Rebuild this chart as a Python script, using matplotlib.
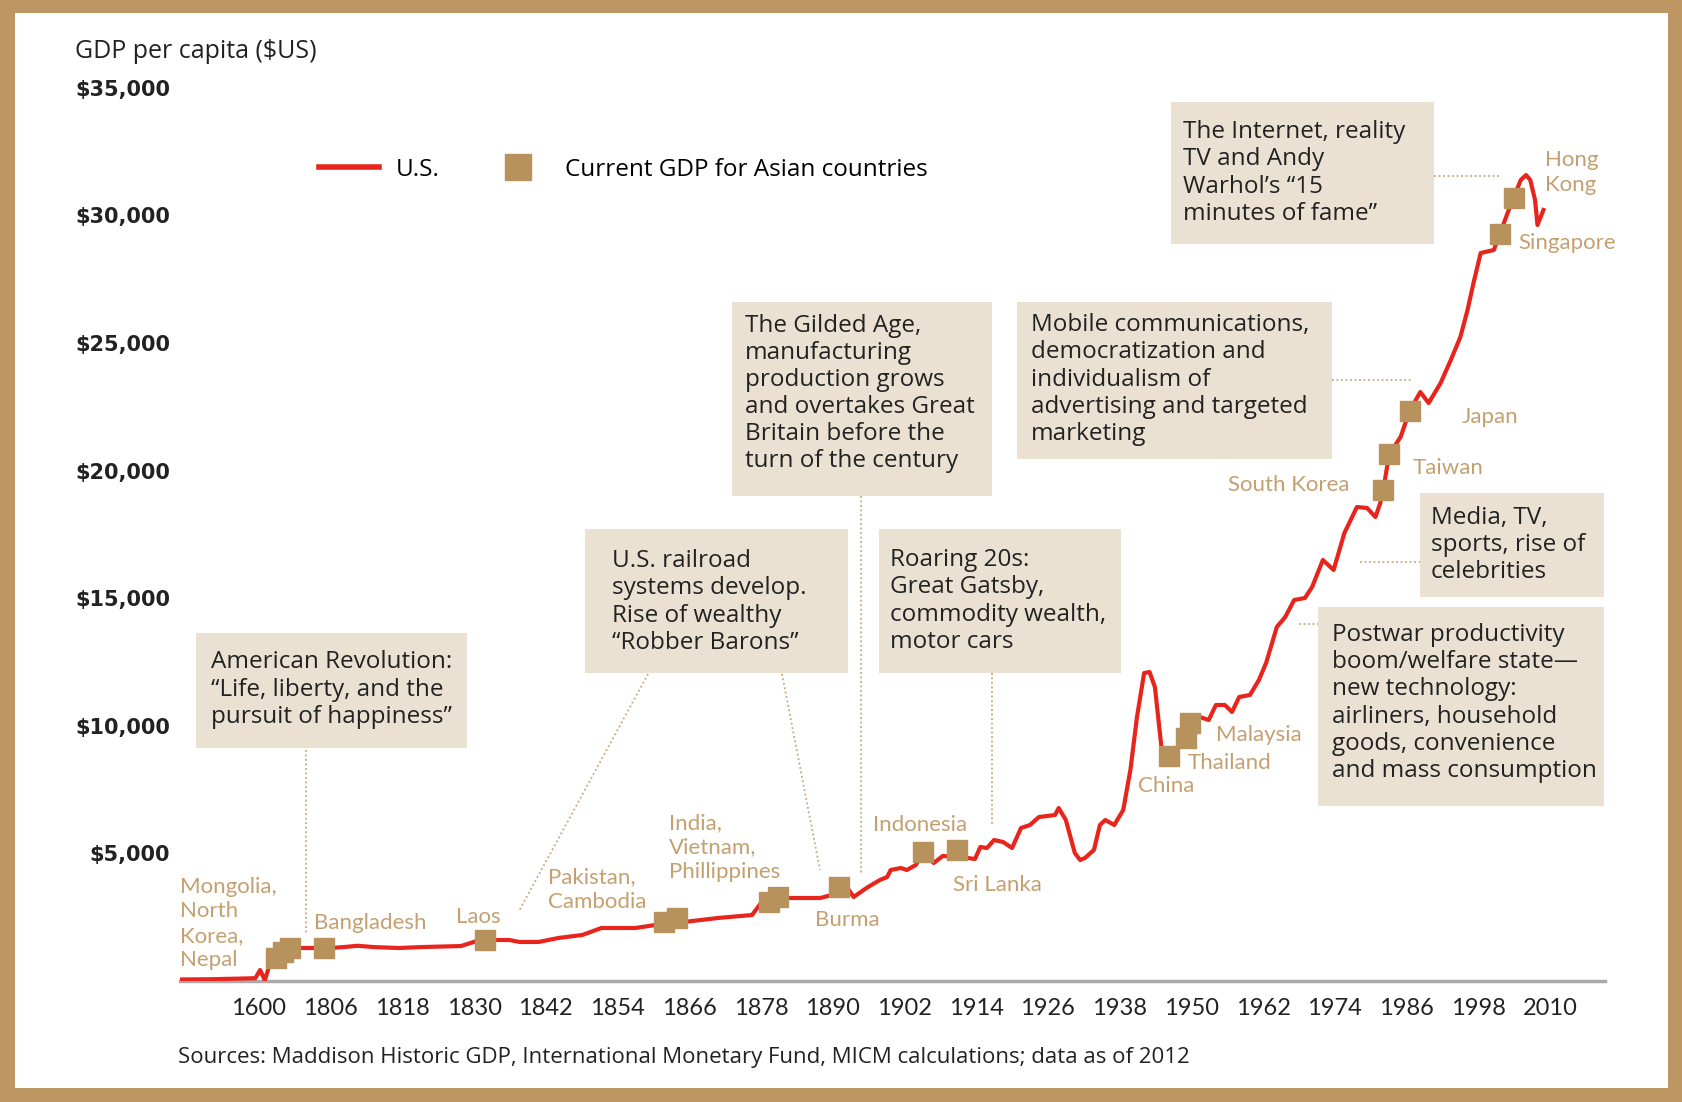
import matplotlib
matplotlib.use("Agg")
import matplotlib.pyplot as plt
from matplotlib.lines import Line2D
from matplotlib.patches import Rectangle

plt.rcParams['font.family'] = ['Lato', 'DejaVu Sans']
WIDE = ['Open Sans', 'DejaVu Sans']

W, H = 1683, 1102


def fx(px):
    return px / W


def fy(py):
    return 1 - py / H


# U.S. GDP per capita line
us_years = [1781, 1786, 1790, 1793.4, 1794.2, 1795.0, 1796.2, 1797.4, 1799.0, 1801.1,
            1806.0, 1808.3, 1810.5, 1813.2, 1817.3, 1821.3, 1827.8, 1831.0, 1835.9, 1837.6,
            1840.8, 1844.1, 1848.1, 1851.3, 1857.0, 1860.3, 1865.1, 1870.8, 1876.5, 1878.0,
            1879.7, 1882.9, 1887.9, 1891.1, 1892.7, 1893.5, 1895.9, 1897.9, 1899.1, 1899.7,
            1901.4, 1902.4, 1903.9, 1905.1, 1906.9, 1908.4, 1910.8, 1912.6, 1913.8, 1914.7,
            1915.8, 1917.0, 1918.5, 1920.0, 1921.5, 1923.0, 1924.5, 1927.2, 1927.8, 1929.0,
            1930.5, 1931.4, 1932.2, 1933.7, 1934.7, 1935.6, 1937.1, 1938.6, 1939.8, 1940.9,
            1942.1, 1943.0, 1943.9, 1945.1, 1946.3, 1948.1, 1949.3, 1951.4, 1952.9, 1954.1,
            1955.6, 1956.8, 1958.0, 1959.8, 1961.3, 1962.5, 1964.3, 1965.7, 1967.2, 1969.0,
            1970.2, 1972.0, 1973.8, 1975.6, 1977.7, 1979.4, 1980.8, 1981.6, 1982.1, 1983.1,
            1985.0, 1986.5, 1988.3, 1989.7, 1991.7, 1993.4, 1995.0, 1996.2, 1997.2, 1998.4,
            2000.6, 2001.6, 2002.9, 2003.9, 2005.1, 2006.0, 2006.7, 2007.5, 2007.9, 2008.9]
us_gdp = [60, 70, 90, 110, 430, 30, 940, 1250, 1293, 1293,
          1293, 1332, 1380, 1330, 1293, 1330, 1370, 1607, 1607, 1530,
          1530, 1685, 1803, 2077, 2077, 2194, 2312, 2469, 2586, 3056,
          3292, 3252, 3252, 3448, 3566, 3292, 3683, 3958, 4075, 4350,
          4428, 4350, 4545, 5016, 4624, 4898, 4859, 4820, 4781, 5251,
          5212, 5525, 5447, 5212, 5995, 6113, 6426, 6505, 6779, 6309,
          5016, 4741, 4820, 5133, 6113, 6309, 6113, 6701, 8268, 10345,
          12069, 12108, 11520, 8934, 8777, 9248, 9718, 10345, 10227, 10815,
          10815, 10541, 11129, 11207, 11795, 12461, 13872, 14263, 14930, 15008,
          15439, 16497, 16105, 17555, 18574, 18534, 18182, 18730, 19240, 20650,
          21317, 22335, 23080, 22649, 23433, 24334, 25235, 26293, 27351, 28527,
          28644, 29271, 30094, 30682, 31387, 31583, 31387, 30603, 29624, 30212]

# Current GDP for Asian countries (squares)
asia_years = [1796.8, 1798.0, 1799.2, 1804.9, 1831.8, 1861.8, 1863.9, 1879.3, 1880.9, 1891.1,
              1905.1, 1910.8, 1946.2, 1949.1, 1949.8, 1982.1, 1983.1, 1986.5, 2001.6, 2003.9]
asia_gdp = [900, 1130, 1293, 1293, 1607, 2312, 2469, 3096, 3292, 3683,
            5055, 5133, 8817, 9522, 10110, 19240, 20650, 22335, 29271, 30682]

tick_years = list(range(1794, 2011, 12))
tick_labels = ['1600'] + [str(y) for y in tick_years[1:]]
y_ticks = [5000, 10000, 15000, 20000, 25000, 30000, 35000]

RED = '#E8251D'
TAN = '#B8925C'
TAN_TXT = '#C4A070'
BOX = '#EAE1D3'
FRAME = '#BE9664'
DARK = '#222222'

fig = plt.figure(figsize=(W / 100, H / 100), dpi=100, facecolor=FRAME)
fig.patches.append(Rectangle((fx(15), fy(1088)), fx(1668) - fx(15), fy(13) - fy(1088),
                             transform=fig.transFigure, facecolor='white',
                             edgecolor='none', zorder=-2))

ax = fig.add_axes([fx(180), fy(981), fx(1605) - fx(180), fy(62.3) - fy(981)])
ax.set_zorder(3)
ax.set_facecolor('none')
ax.set_xlim(1780.8, 2019.2)
ax.set_ylim(0, 36000)

ax.plot(us_years, us_gdp, color=RED, lw=3, zorder=3, solid_joinstyle='round')
ax.plot(asia_years, asia_gdp, 's', color=TAN, markersize=14, zorder=4, ls='none')

for s in ['top', 'right', 'left']:
    ax.spines[s].set_visible(False)
ax.spines['bottom'].set_color('#AAAAAA')
ax.spines['bottom'].set_linewidth(2.5)

ax.set_xticks(tick_years)
ax.set_xticklabels(tick_labels, fontsize=17, color=DARK)
ax.set_yticks(y_ticks)
ax.set_yticklabels(['${:,}'.format(v) for v in y_ticks], fontsize=15, color=DARK,
                   fontweight='bold', family='DejaVu Sans')
ax.tick_params(axis='x', length=0, pad=12)
ax.tick_params(axis='y', length=0, pad=7)

fig.text(fx(75), fy(52), 'GDP per capita ($US)', fontsize=18, color=DARK, va='center',
         family=WIDE)

handles = [Line2D([], [], color=RED, lw=4),
           Line2D([], [], marker='s', color=TAN, ls='none', markersize=19)]
ax.legend(handles, ['U.S.', 'Current GDP for Asian countries'], ncol=2, frameon=False,
          prop={'family': WIDE, 'size': 17.5}, loc='center left',
          bbox_to_anchor=(fx(319), fy(170)),
          bbox_transform=fig.transFigure, borderpad=0, borderaxespad=0,
          handlelength=2.45, handletextpad=0.7, columnspacing=2.0)

# annotation boxes: x0, y0, x1, y1 (pixels), text left, text center y, text
boxes = [
    (196, 633, 467, 748, 211, 689.5,
     'American Revolution:\n\u201cLife, liberty, and the\npursuit of happiness\u201d'),
    (585, 529, 848, 673, 612, 602,
     'U.S. railroad\nsystems develop.\nRise of wealthy\n\u201cRobber Barons\u201d'),
    (732, 302, 992, 496, 745, 393.5,
     'The Gilded Age,\nmanufacturing\nproduction grows\nand overtakes Great\n'
     'Britain before the\nturn of the century'),
    (879, 529, 1121, 673, 890, 601,
     'Roaring 20s:\nGreat Gatsby,\ncommodity wealth,\nmotor cars'),
    (1017, 302, 1332, 459, 1031, 379.5,
     'Mobile communications,\ndemocratization and\nindividualism of\n'
     'advertising and targeted\nmarketing'),
    (1171, 102, 1434, 244, 1183, 173,
     'The Internet, reality\nTV and Andy\nWarhol\u2019s \u201c15\nminutes of fame\u201d'),
    (1420, 493, 1604, 597, 1431, 545,
     'Media, TV,\nsports, rise of\ncelebrities'),
    (1318, 607, 1604, 806, 1332, 703,
     'Postwar productivity\nboom/welfare state\u2014\nnew technology:\n'
     'airliners, household\ngoods, convenience\nand mass consumption'),
]
for x0, y0, x1, y1, tx, ty, txt in boxes:
    fig.patches.append(Rectangle((fx(x0), fy(y1)), fx(x1) - fx(x0), fy(y0) - fy(y1),
                                 transform=fig.transFigure, facecolor=BOX,
                                 edgecolor='none', zorder=1))
    fig.text(fx(tx), fy(ty), txt, fontsize=17.5, color=DARK, va='center', ha='left',
             linespacing=1.17, zorder=2, family=WIDE)

connectors = [
    ((306, 750), (306, 935)),
    ((648, 674), (519, 911)),
    ((782, 674), (820, 870)),
    ((861, 496), (861, 874)),
    ((992, 673), (992, 825)),
    ((1332, 380), (1412, 380)),
    ((1434, 176), (1499, 176)),
    ((1360, 562), (1420, 562)),
    ((1299, 624), (1318, 624)),
]
for (xa, ya), (xb, yb) in connectors:
    fig.add_artist(Line2D([fx(xa), fx(xb)], [fy(ya), fy(yb)], transform=fig.transFigure,
                          color='#C9A87A', lw=1.3, ls=(0, (1, 1.5)), zorder=1))

# country labels: text, x, center y, alignment
countries = [
    ('Mongolia,\nNorth\nKorea,\nNepal', 180, 923.5, 'left'),
    ('Bangladesh', 314, 923, 'left'),
    ('Laos', 456, 917, 'left'),
    ('Pakistan,\nCambodia', 548, 889.5, 'left'),
    ('India,\nVietnam,\nPhillippines', 669, 847.5, 'left'),
    ('Burma', 815, 920, 'left'),
    ('Indonesia', 873, 825, 'left'),
    ('Sri Lanka', 953, 885, 'left'),
    ('China', 1138, 786, 'left'),
    ('Thailand', 1188, 763, 'left'),
    ('Malaysia', 1216, 735, 'left'),
    ('South Korea', 1350, 485, 'right'),
    ('Taiwan', 1413, 468, 'left'),
    ('Japan', 1462, 417, 'left'),
    ('Singapore', 1518, 243, 'left'),
    ('Hong\nKong', 1545, 172.5, 'left'),
]
for txt, tx, ty, ha in countries:
    fig.text(fx(tx), fy(ty), txt, fontsize=16, color=TAN_TXT, va='center', ha=ha,
             linespacing=1.29, zorder=5)

fig.text(fx(178), fy(1057), 'Sources: Maddison Historic GDP, International Monetary Fund, '
         'MICM calculations; data as of 2012', fontsize=16, color=DARK, va='center',
         family=WIDE)

fig.savefig('out.png', dpi=100, facecolor=FRAME)
